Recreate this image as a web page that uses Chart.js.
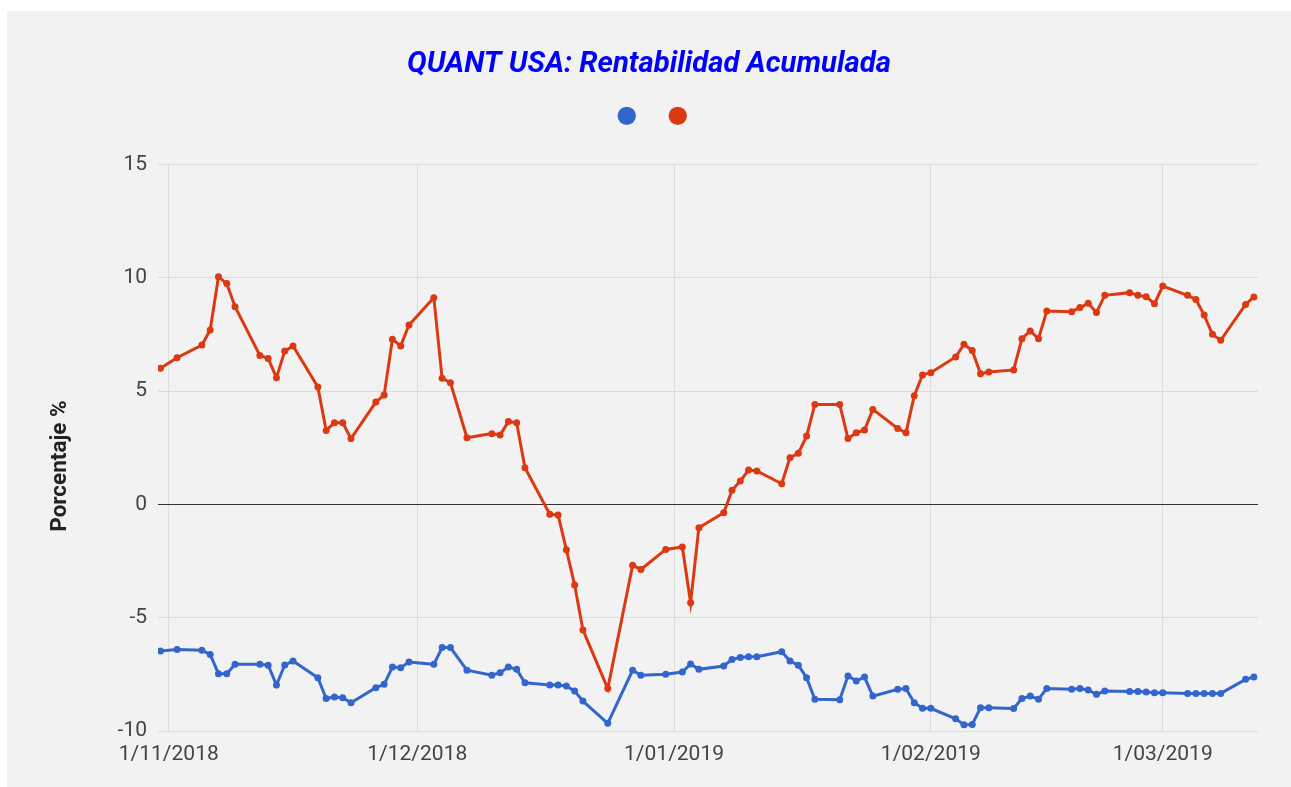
<!DOCTYPE html>
<html>
<head>
<meta charset="utf-8">
<script src="https://cdn.jsdelivr.net/npm/chart.js@4.4.1/dist/chart.umd.min.js"></script>
<style>
    body { margin: 0; background: #fff; }
    #wrap { position: absolute; left: 7px; top: 11px; width: 1284px; height: 776px; background: #f2f2f2; }
</style>
</head>
<body>
<div id="wrap"><canvas id="chart" width="1284" height="776"></canvas></div>
<script>
// Fechas de cotizacion (dias habiles)
const fechas = [
    '2018-10-31', '2018-11-02', '2018-11-05', '2018-11-06', '2018-11-07', '2018-11-08', '2018-11-09',
    '2018-11-12', '2018-11-13', '2018-11-14', '2018-11-15', '2018-11-16', '2018-11-19', '2018-11-20',
    '2018-11-21', '2018-11-22', '2018-11-23', '2018-11-26', '2018-11-27', '2018-11-28', '2018-11-29',
    '2018-11-30', '2018-12-03', '2018-12-04', '2018-12-05', '2018-12-07', '2018-12-10', '2018-12-11',
    '2018-12-12', '2018-12-13', '2018-12-14', '2018-12-17', '2018-12-18', '2018-12-19', '2018-12-20',
    '2018-12-21', '2018-12-24', '2018-12-27', '2018-12-28', '2018-12-31', '2019-01-02', '2019-01-03',
    '2019-01-04', '2019-01-07', '2019-01-08', '2019-01-09', '2019-01-10', '2019-01-11', '2019-01-14',
    '2019-01-15', '2019-01-16', '2019-01-17', '2019-01-18', '2019-01-21', '2019-01-22', '2019-01-23',
    '2019-01-24', '2019-01-25', '2019-01-28', '2019-01-29', '2019-01-30', '2019-01-31', '2019-02-01',
    '2019-02-04', '2019-02-05', '2019-02-06', '2019-02-07', '2019-02-08', '2019-02-11', '2019-02-12',
    '2019-02-13', '2019-02-14', '2019-02-15', '2019-02-18', '2019-02-19', '2019-02-20', '2019-02-21',
    '2019-02-22', '2019-02-25', '2019-02-26', '2019-02-27', '2019-02-28', '2019-03-01', '2019-03-04',
    '2019-03-05', '2019-03-06', '2019-03-07', '2019-03-08', '2019-03-11', '2019-03-12'
];

const serieAzul = [
    -6.47, -6.40, -6.44, -6.62, -7.47, -7.47, -7.06,
    -7.06, -7.10, -7.97, -7.09, -6.91, -7.65, -8.57,
    -8.50, -8.53, -8.75, -8.09, -7.94, -7.18, -7.21,
    -6.96, -7.06, -6.32, -6.32, -7.32, -7.54, -7.43,
    -7.18, -7.28, -7.87, -7.97, -7.97, -8.01, -8.24,
    -8.68, -9.66, -7.32, -7.54, -7.50, -7.40, -7.04,
    -7.28, -7.13, -6.84, -6.76, -6.72, -6.72, -6.50,
    -6.91, -7.10, -7.65, -8.60, -8.62, -7.57, -7.79,
    -7.62, -8.46, -8.16, -8.13, -8.75, -9.00, -9.00,
    -9.46, -9.72, -9.71, -8.97, -8.97, -9.01, -8.57,
    -8.46, -8.60, -8.13, -8.16, -8.13, -8.19, -8.38,
    -8.24, -8.26, -8.26, -8.28, -8.31, -8.31, -8.34,
    -8.34, -8.34, -8.34, -8.34, -7.72, -7.62
];

const serieRoja = [
    6.00, 6.47, 7.03, 7.69, 10.04, 9.74, 8.72,
    6.57, 6.44, 5.59, 6.76, 6.99, 5.18, 3.26,
    3.60, 3.60, 2.90, 4.51, 4.82, 7.28, 6.99,
    7.91, 9.12, 5.56, 5.37, 2.94, 3.12, 3.06,
    3.65, 3.60, 1.62, -0.44, -0.47, -2.00, -3.56,
    -5.54, -8.13, -2.69, -2.87, -1.99, -1.88, -4.34,
    -1.03, -0.37, 0.62, 1.03, 1.51, 1.47, 0.91,
    2.06, 2.25, 3.01, 4.41, 4.41, 2.90, 3.16,
    3.28, 4.19, 3.35, 3.16, 4.79, 5.71, 5.81,
    6.50, 7.06, 6.79, 5.76, 5.84, 5.93, 7.31,
    7.65, 7.31, 8.53, 8.50, 8.68, 8.87, 8.46,
    9.22, 9.34, 9.22, 9.16, 8.85, 9.63, 9.22,
    9.04, 8.35, 7.50, 7.24, 8.82, 9.15
];

const marcasMes = ['2018-11-01', '2018-12-01', '2019-01-01', '2019-02-01', '2019-03-01'];
const etiquetasMes = ['1/11/2018', '1/12/2018', '1/01/2019', '1/02/2019', '1/03/2019'];
const ticksY = [-10, -5, 0, 5, 10, 15];

const AZUL = '#3366cc';
const ROJO = '#dc3912';

// dias desde el 1/11/2018
const origen = Date.UTC(2018, 10, 1);
let dia = function (f) {
    const p = f.split('-');
    return (Date.UTC(+p[0], +p[1] - 1, +p[2]) - origen) / 86400000;
};

const tickFont = {family: 'Roboto', size: 21};

// titulo del eje Y, centrado como en el original
const tituloEjeY = {
    id: 'tituloEjeY',
    afterDraw(chart) {
        const ctx = chart.ctx;
        ctx.save();
        ctx.translate(53, 455);
        ctx.rotate(-Math.PI / 2);
        ctx.font = 'bold 22.5px Roboto';
        ctx.fillStyle = '#222';
        ctx.textAlign = 'center';
        ctx.textBaseline = 'middle';
        ctx.fillText('Porcentaje %', 0, 0);
        ctx.restore();
    }
};

new Chart(document.getElementById('chart').getContext('2d'), {
    type: 'line',
    data: {
        datasets: [{
            label: '',
            data: fechas.map((f, i) => ({x: dia(f), y: serieAzul[i]})),
            borderColor: AZUL,
            backgroundColor: AZUL,
            borderWidth: 3,
            pointRadius: 3.5,
            pointBorderWidth: 0,
            pointStyle: 'circle'
        }, {
            label: '',
            data: fechas.map((f, i) => ({x: dia(f), y: serieRoja[i]})),
            borderColor: ROJO,
            backgroundColor: ROJO,
            borderWidth: 3,
            pointRadius: 3.5,
            pointBorderWidth: 0,
            pointStyle: 'circle'
        }]
    },
    options: {
        responsive: false,
        animation: false,
        plugins: {
            title: {
                display: true,
                text: 'QUANT USA: Rentabilidad Acumulada',
                color: '#0000ff',
                font: {family: 'Roboto', size: 29.3, weight: 'bold', style: 'italic'},
                padding: {top: 36.4, bottom: -4.7}
            },
            // empty subtitle used only as a spacer under the legend
            subtitle: {
                display: true,
                text: '',
                weight: 500,
                font: {size: 10},
                padding: {top: 0, bottom: 20}
            },
            legend: {
                // rtl + reverse: keeps blue left / red right but centres the pair
                rtl: true,
                reverse: true,
                labels: {
                    usePointStyle: true,
                    boxWidth: 13,
                    boxHeight: 13,
                    padding: 31.5,
                    font: {family: 'Roboto', size: 13}
                }
            },
            tooltip: {enabled: false}
        },
        scales: {
            x: {
                type: 'linear',
                min: -1.3,
                max: 131.5,
                afterBuildTicks: function (scale) {
                    scale.ticks = marcasMes.map(f => ({value: dia(f)}));
                },
                afterFit: function (scale) {
                    scale.height = 56;
                    scale.paddingRight = 33;
                },
                ticks: {
                    autoSkip: false,
                    maxRotation: 0,
                    padding: 11,
                    color: '#444',
                    font: tickFont,
                    callback: (v, i) => etiquetasMes[i]
                },
                grid: {color: '#dcdcdc', drawTicks: false},
                border: {display: false}
            },
            y: {
                min: -10,
                max: 15,
                afterBuildTicks: function (scale) {
                    scale.ticks = ticksY.map(v => ({value: v}));
                },
                afterFit: function (scale) {
                    scale.width = 151;
                },
                ticks: {padding: 11, color: '#444', font: tickFont},
                grid: {
                    color: ctx => ctx.tick && ctx.tick.value === 0 ? '#333' : '#dcdcdc',
                    drawTicks: false
                },
                border: {display: false}
            }
        }
    },
    plugins: [tituloEjeY]
});
</script>
</body>
</html>
